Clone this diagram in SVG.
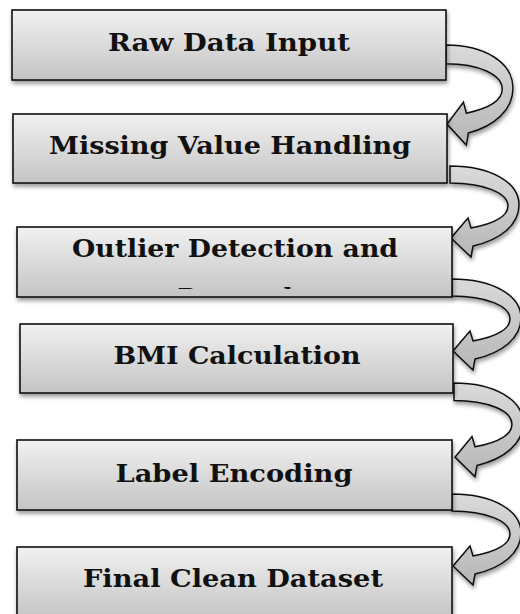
<svg xmlns="http://www.w3.org/2000/svg" xmlns:xlink="http://www.w3.org/1999/xlink" width="520" height="614" viewBox="0 0 520 614">
  <defs>
    <style>
      .box { fill: url(#boxGrad); stroke: #111; stroke-width: 1.6; filter: url(#shadow); }
      .lbl { font-family: "DejaVu Serif", "Liberation Serif", serif; font-weight: bold; font-size: 24px; fill: #111; text-anchor: middle; }
      .arrow { fill: url(#arrowGrad); stroke: #111; stroke-width: 1.5; stroke-linejoin: miter; filter: url(#shadow); }
    </style>
    <linearGradient id="boxGrad" x1="0" y1="0" x2="0" y2="1">
      <stop offset="0" stop-color="#f1f1f1"/>
      <stop offset="1" stop-color="#c4c4c4"/>
    </linearGradient>
    <linearGradient id="arrowGrad" x1="0" y1="0" x2="0" y2="1">
      <stop offset="0" stop-color="#dadada"/>
      <stop offset="1" stop-color="#b6b6b6"/>
    </linearGradient>
    <filter id="shadow" x="-10%" y="-10%" width="130%" height="140%">
      <feGaussianBlur in="SourceAlpha" stdDeviation="2"/>
      <feOffset dx="1" dy="3" result="blur"/>
      <feComponentTransfer><feFuncA type="linear" slope="0.4"/></feComponentTransfer>
      <feMerge><feMergeNode/><feMergeNode in="SourceGraphic"/></feMerge>
    </filter>
    <!-- curved left-pointing arrow, origin at the top of its tail -->
    <path id="curvedArrow" d="M0,0 C40,0 69,16 69,39 C69,59 50,74 23,80 L21,91 L1,72 L18,52 L21,62 C42,58 58,51 58,40 C58,27 34,17 0,17 Z"/>
    <clipPath id="clipOutlier">
      <rect x="17" y="227" width="435" height="62"/>
    </clipPath>
  </defs>

  <g id="connectors">
    <use xlink:href="#curvedArrow" class="arrow" transform="translate(446,45) scale(0.97,1.1)" vector-effect="non-scaling-stroke"/>
    <use xlink:href="#curvedArrow" class="arrow" transform="translate(450,166)"/>
    <use xlink:href="#curvedArrow" class="arrow" transform="translate(452,279)"/>
    <use xlink:href="#curvedArrow" class="arrow" transform="translate(454,383) scale(1,1.03)"/>
    <use xlink:href="#curvedArrow" class="arrow" transform="translate(452,494)"/>
  </g>

  <g id="raw-data-input">
    <rect class="box" x="12" y="10" width="434" height="70"/>
    <text class="lbl" x="229" y="51" textLength="242" lengthAdjust="spacingAndGlyphs">Raw Data Input</text>
  </g>

  <g id="missing-value-handling">
    <rect class="box" x="13" y="114" width="434" height="69"/>
    <text class="lbl" x="230" y="154" textLength="362" lengthAdjust="spacingAndGlyphs">Missing Value Handling</text>
  </g>

  <g id="outlier-detection">
    <rect class="box" x="17" y="227" width="435" height="70"/>
    <!-- second line runs past the box and is cut off -->
    <g clip-path="url(#clipOutlier)">
      <text class="lbl" x="235" y="257" textLength="326" lengthAdjust="spacingAndGlyphs">Outlier Detection and</text>
      <text class="lbl" x="235" y="306">Removal</text>
    </g>
  </g>

  <g id="bmi-calculation">
    <rect class="box" x="20" y="324" width="433" height="69"/>
    <text class="lbl" x="237" y="364" textLength="247" lengthAdjust="spacingAndGlyphs">BMI Calculation</text>
  </g>

  <g id="label-encoding">
    <rect class="box" x="17" y="440" width="435" height="70"/>
    <text class="lbl" x="234" y="482" textLength="237" lengthAdjust="spacingAndGlyphs">Label Encoding</text>
  </g>

  <g id="final-clean-dataset">
    <rect class="box" x="17" y="547" width="435" height="72"/>
    <text class="lbl" x="233" y="587" textLength="300" lengthAdjust="spacingAndGlyphs">Final Clean Dataset</text>
  </g>
</svg>
